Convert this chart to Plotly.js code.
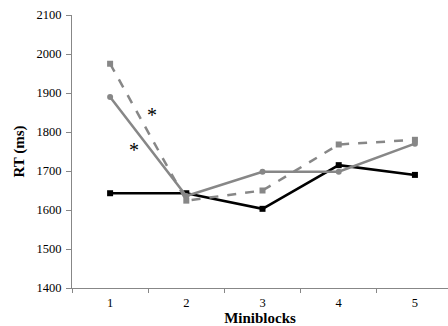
<!DOCTYPE html>
<html>
<head>
<meta charset="utf-8">
<script src="https://cdn.plot.ly/plotly-3.0.1.min.js"></script>
<style>html,body{margin:0;padding:0;background:#fff;}#chart{width:448px;height:326px;}</style>
</head>
<body>
<div id="chart"></div>
<script>
var miniblocks = ['1', '2', '3', '4', '5'];
var blackSeries = [1643, 1643, 1603, 1715, 1690];
var grayDashedSeries = [1975, 1624, 1650, 1768, 1780];
var graySolidSeries = [1890, 1636, 1698, 1698, 1770];
var yTicks = [1400, 1500, 1600, 1700, 1800, 1900, 2000, 2100];
// asterisk positions in category-index units (0 = miniblock 1)
var asterisks = [{x: 0.55, y: 1843}, {x: 0.31, y: 1755}];

var gray = '#878787';
var traces = [
  {x: miniblocks, y: blackSeries, type: 'scatter', mode: 'lines+markers',
   line: {color: '#000000', width: 2.5}, marker: {symbol: 'square', size: 6, color: '#000000'}},
  {x: miniblocks, y: graySolidSeries, type: 'scatter', mode: 'lines+markers',
   line: {color: gray, width: 2.5}, marker: {symbol: 'circle', size: 6, color: gray}},
  {x: miniblocks, y: grayDashedSeries, type: 'scatter', mode: 'lines+markers',
   line: {color: gray, width: 2.5, dash: 'dash'}, marker: {symbol: 'square', size: 6, color: gray}}
];

var fam = '"Liberation Serif", "Times New Roman", serif';
var font = {family: fam, color: '#000', size: 12.5};

var layout = {
  width: 448, height: 326,
  margin: {l: 72, r: 0, t: 15, b: 38},
  paper_bgcolor: '#fff', plot_bgcolor: '#fff',
  showlegend: false,
  font: font,
  xaxis: {
    type: 'category',
    range: [-0.5, 4.434],
    tickson: 'boundaries',
    ticks: 'outside', ticklen: 4, tickcolor: gray, tickwidth: 1,
    showline: true, linecolor: gray, linewidth: 1,
    showgrid: false, zeroline: false,
    tickfont: font,
    ticklabelstandoff: 3,
    title: {text: '<b>Miniblocks</b>', font: {family: fam, size: 15, color: '#000'}, standoff: 4}
  },
  yaxis: {
    range: [1400, 2100],
    tickvals: yTicks,
    ticks: 'outside', ticklen: 5, tickcolor: gray, tickwidth: 1,
    showline: true, linecolor: gray, linewidth: 1,
    showgrid: false, zeroline: false,
    tickfont: font,
    ticklabelstandoff: 2,
    title: {text: '<b>RT (ms)</b>', font: {family: fam, size: 15, color: '#000'}, standoff: 8}
  },
  annotations: asterisks.map(function (a) {
    return {x: a.x, y: a.y, xref: 'x', yref: 'y', text: '*', showarrow: false,
      font: {family: fam, size: 20, color: '#000'}};
  })
};

Plotly.newPlot('chart', traces, layout, {displayModeBar: false, staticPlot: true});
</script>
</body>
</html>
